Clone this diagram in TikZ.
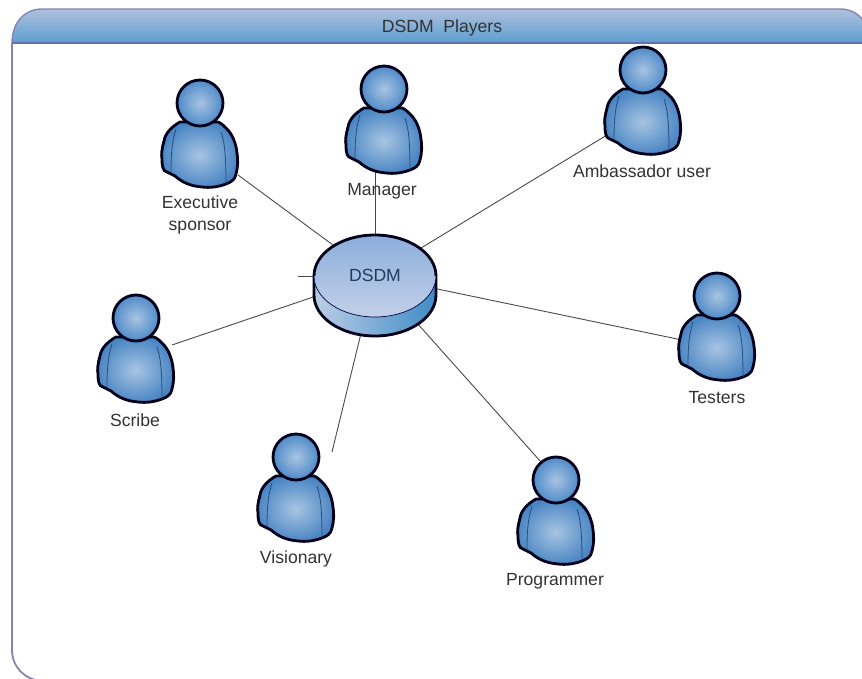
\documentclass[tikz,border=0pt]{standalone}
\usepackage{fontspec}
\setmainfont{Liberation Sans}
\definecolor{framec}{HTML}{8585B5}
\definecolor{headline}{HTML}{6272A8}
\definecolor{hdtop}{HTML}{B0C0DC}
\definecolor{hdbot}{HTML}{5A9ED0}
\definecolor{txt}{HTML}{333333}
\definecolor{disktxt}{HTML}{1F3A5F}
\definecolor{lin}{HTML}{4A4A4A}
\definecolor{bodyin}{HTML}{A8C4E2}
\definecolor{bodyout}{HTML}{4A86C4}
\definecolor{headin}{HTML}{A8C4E2}
\definecolor{headout}{HTML}{4F8AC8}
\definecolor{seam}{HTML}{2A4A78}
\definecolor{disktop}{HTML}{8CAEDC}
\definecolor{diskbot}{HTML}{C2D0E8}
\definecolor{sideleft}{HTML}{BCCDE6}
\definecolor{sideright}{HTML}{3F8CC6}
\tikzset{
  lbl/.style={font=\fontsize{17.6}{22}\selectfont,text=txt,inner sep=0pt,align=center},
  link/.style={draw=lin,line width=0.9pt},
  outline/.style={draw=black!90!blue,line width=2.8pt,line join=round},
  pics/person/.style={code={
    \shadedraw[outline,inner color=bodyin,outer color=bodyout]
      (-20,19) .. controls (-29,24) and (-35,31) .. (-36,38)
      .. controls (-38,45) and (-39,52) .. (-38,56)
      .. controls (-38,64) and (-37,68) .. (-33,69)
      .. controls (-30,71) and (-28,71) .. (-25,73)
      .. controls (-17,80) and (-9,83) .. (2,84)
      .. controls (10,85) and (18,84) .. (26,81)
      .. controls (31,79) and (35,77) .. (36,71)
      .. controls (38,64) and (38,56) .. (37,50)
      .. controls (36,40) and (32,31) .. (27,26)
      .. controls (24,23) and (21,20) .. (18,19) -- cycle;
    \draw[seam,line width=0.8pt] (-24,26) .. controls (-27,36) and (-29,45) .. (-29,69);
    \draw[seam,line width=0.8pt] (21,29) .. controls (24,38) and (26,48) .. (26,81);
    \shadedraw[outline,inner color=headin,outer color=headout] (0,0) circle [radius=23pt];
  }}
}
\begin{document}
\begin{tikzpicture}[x=1pt,y=-1pt]
\useasboundingbox (0,0) rectangle (862,679);
\fill[white] (0,0) rectangle (862,679);
\clip (0,0) rectangle (862,679);
% frame
\draw[framec,line width=1.8pt] (12,43) -- (12,650) .. controls (12,667) and (25,680) .. (42,681) -- (840,681);
\shadedraw[draw=framec,line width=1.4pt,top color=hdtop,bottom color=hdbot]
  (12,43) .. controls (12,22) and (25,9) .. (42,9) -- (840,9) .. controls (857,9) and (870,22) .. (870,43) -- cycle;
\draw[headline,line width=1.8pt] (12,43) -- (870,43);
\node[lbl] (title) at (442,28) {DSDM\ \ Players};
% connector ends
\node[inner sep=0pt,minimum size=0pt] (dsdm) at (375,276) {};
\coordinate (execEnd) at (238,175);
\coordinate (mgrEnd) at (375,170);
\coordinate (ambEnd) at (607,135);
\coordinate (scrEnd) at (172,345);
\coordinate (stubEnd) at (298,276);
\coordinate (visEnd) at (332,452);
\coordinate (progEnd) at (541,462);
\coordinate (tesEnd) at (682,340);
\foreach \e in {execEnd,mgrEnd,ambEnd,scrEnd,stubEnd,visEnd,progEnd,tesEnd}
  \draw[link] (dsdm.center) -- (\e);
% people
\pic at (200,103) {person};
\pic at (384,89) {person};
\pic at (643,70) {person};
\pic at (136,318) {person};
\pic at (717,296) {person};
\pic at (296,457) {person};
\pic at (556,480) {person};
% disk
\shadedraw[outline,left color=sideleft,right color=sideright]
  (314,276) -- (314,295) .. controls (314,317.6) and (341.3,336) .. (375,336)
  .. controls (408.7,336) and (436,317.6) .. (436,295) -- (436,276) -- cycle;
\shade[top color=disktop,bottom color=diskbot]
  (375,276) ellipse [x radius=61pt,y radius=41pt];
\draw[black!75!blue,line width=0.7pt] (314,276) .. controls (314,298.6) and (341.3,317) .. (375,317)
  .. controls (408.7,317) and (436,298.6) .. (436,276);
\draw[black!90!blue,line width=2.8pt] (436,276) .. controls (436,253.4) and (408.7,235) .. (375,235)
  .. controls (341.3,235) and (314,253.4) .. (314,276);
\node[lbl,text=disktxt] (dsdmlabel) at (375,275) {DSDM};
% labels
\node[lbl] (l1) at (200,215) {Executive\\sponsor};
\node[lbl] (l2) at (382,191) {Manager};
\node[lbl] (l3) at (642,171) {Ambassador user};
\node[lbl] (l4) at (135,420) {Scribe};
\node[lbl] (l5) at (717,398) {Testers};
\node[lbl] (l6) at (296,559) {Visionary};
\node[lbl] (l7) at (555,581) {Programmer};
\end{tikzpicture}
\end{document}
